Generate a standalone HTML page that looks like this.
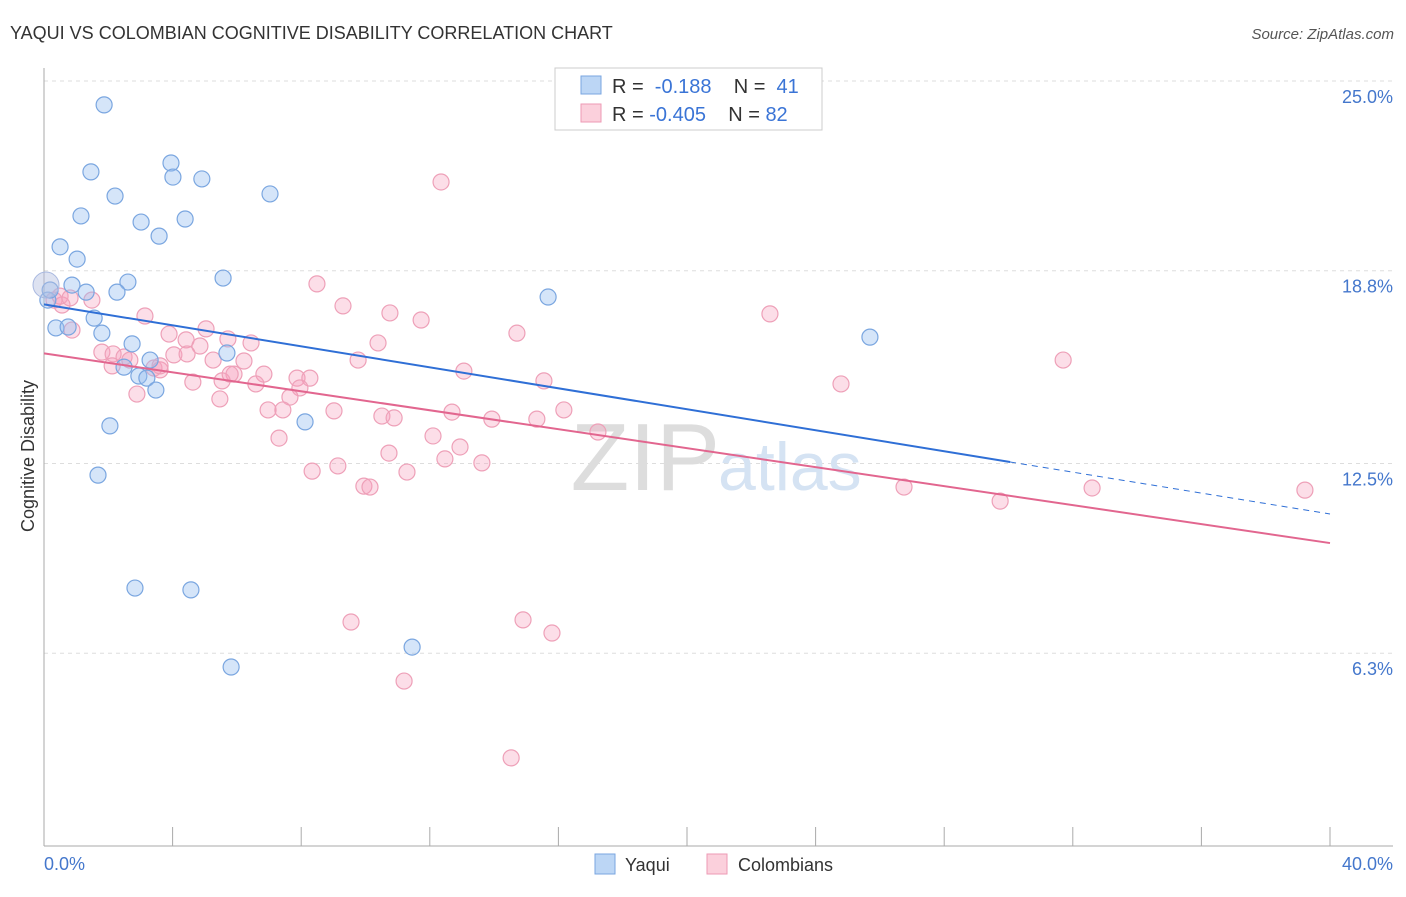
<!DOCTYPE html>
<html><head><meta charset="utf-8"><style>
body{margin:0;background:#fff;font-family:"Liberation Sans",sans-serif;}
svg text{font-family:"Liberation Sans",sans-serif;}
</style></head><body>
<svg id="c" width="1406" height="892">
<text x="10" y="39" font-size="18" fill="#333">YAQUI VS COLOMBIAN COGNITIVE DISABILITY CORRELATION CHART</text>
<text x="1394" y="39" font-size="15" fill="#555" text-anchor="end" font-style="italic">Source: ZipAtlas.com</text>
<g id="grid"></g>
<text x="720" y="490" font-size="96" fill="#ddd" text-anchor="end" font-family="Liberation Serif">ZIP</text>
<text x="718" y="490" font-size="68" fill="#d5e3f3">atlas</text>
<line x1="44" y1="68" x2="44" y2="846" stroke="#aaa"/>
<line x1="44" y1="846" x2="1393" y2="846" stroke="#aaa"/>
<g id="xt"></g>
<g id="yl"></g>
<text x="44" y="870" font-size="18" fill="#4477cc">0.0%</text>
<text x="1393" y="870" font-size="18" fill="#4477cc" text-anchor="end">40.0%</text>
<text transform="translate(34,456) rotate(-90)" font-size="18" fill="#333" text-anchor="middle">Cognitive Disability</text>
<g id="pts"></g>
<g id="lines"></g>
<g>
<rect x="555" y="68" width="267" height="62" fill="#fff" stroke="#ccc"/>
<rect x="581" y="76" width="20" height="18" fill="#bcd6f5" stroke="#7aa6e0"/>
<rect x="581" y="104" width="20" height="18" fill="#fbd0dc" stroke="#ee9ab4"/>
<text x="612" y="93" font-size="20" fill="#333" xml:space="preserve">R =  <tspan fill="#3a74d6">-0.188</tspan>    N =  <tspan fill="#3a74d6">41</tspan></text>
<text x="612" y="121" font-size="20" fill="#333" xml:space="preserve">R = <tspan fill="#3a74d6">-0.405</tspan>    N = <tspan fill="#3a74d6">82</tspan></text>
</g>
<g>
<rect x="595" y="854" width="20" height="20" fill="#bcd6f5" stroke="#7aa6e0"/>
<text x="625" y="871" font-size="18" fill="#333">Yaqui</text>
<rect x="707" y="854" width="20" height="20" fill="#fbd0dc" stroke="#ee9ab4"/>
<text x="738" y="871" font-size="18" fill="#333">Colombians</text>
</g>
</svg>
<script>
const yTicks=[25.0,18.8,12.5,6.3];
const yTickLabels=["25.0%","18.8%","12.5%","6.3%"];
const xTicks=[0,4,8,12,16,20,24,28,32,36,40];
const yaquiPx=[[104,105],[91,172],[171,163],[173,177],[202,179],[115,196],[270,194],[81,216],[141,222],[185,219],[159,236],[60,247],[77,259],[223,278],[128,282],[72,285],[117,292],[86,292],[548,297],[94,318],[56,328],[68,327],[102,333],[870,337],[132,344],[227,353],[150,360],[124,367],[139,376],[147,378],[156,390],[110,426],[305,422],[98,475],[135,588],[191,590],[412,647],[231,667],[48,300],[50,290]];
const colPx=[[54,300],[62,305],[92,300],[72,330],[145,316],[169,334],[206,329],[186,340],[200,346],[228,339],[251,343],[102,352],[113,354],[124,357],[130,360],[112,366],[154,368],[160,370],[174,355],[187,354],[213,360],[244,361],[234,374],[264,374],[222,381],[193,382],[256,384],[297,378],[310,378],[300,388],[137,394],[220,399],[290,397],[268,410],[283,410],[334,411],[382,416],[394,418],[317,284],[343,306],[390,313],[421,320],[378,343],[358,360],[464,371],[517,333],[544,381],[452,412],[492,419],[537,419],[564,410],[598,432],[279,438],[433,436],[460,447],[389,453],[445,459],[482,463],[312,471],[338,466],[407,472],[364,486],[370,487],[441,182],[770,314],[841,384],[1063,360],[904,487],[1000,501],[1092,488],[1305,490],[351,622],[523,620],[552,633],[404,681],[511,758],[60,296],[70,298],[160,366],[230,374]];
const yaquiX=yaquiPx.map(p=>+((p[0]-44)/1286*40).toFixed(2)), yaquiY=yaquiPx.map(p=>+((846-p[1])/765*25).toFixed(2));
const colX=colPx.map(p=>+((p[0]-44)/1286*40).toFixed(2)), colY=colPx.map(p=>+((846-p[1])/765*25).toFixed(2));
const yaquiTrend=[17.7,12.55,10.85];
const colTrend=[16.1,9.9];
const xs=v=>44+v/40*1286, ys=v=>846-v/25*765;
const NS="http://www.w3.org/2000/svg";
function mk(t,a,p){const e=document.createElementNS(NS,t);for(const k in a)e.setAttribute(k,a[k]);p.appendChild(e);return e;}
const g=document.getElementById('grid');
yTicks.forEach((v,i)=>{const l=mk('line',{x1:44,x2:1393,y1:ys(v),y2:ys(v),stroke:'#ddd','stroke-dasharray':'4 4'},g);


const t=mk('text',{x:1393,y:ys(v)+22,'font-size':18,fill:'#4477cc','text-anchor':'end'},document.getElementById('yl'));t.textContent=yTickLabels[i];

});
xTicks.forEach(v=>{const l=mk('line',{x1:xs(v),x2:xs(v),y1:827,y2:846,stroke:'#aaa'},document.getElementById('xt'));

});
const P=document.getElementById('pts');
colX.forEach((x,i)=>{const c=mk('circle',{cx:xs(x),cy:ys(colY[i]),r:8,fill:'rgba(245,160,190,0.35)',stroke:'#eea0b8','stroke-width':1.2},P);

});
yaquiX.forEach((x,i)=>{const c=mk('circle',{cx:xs(x),cy:ys(yaquiY[i]),r:8,fill:'rgba(150,190,240,0.4)',stroke:'#7aa6e0','stroke-width':1.2},P);

});
const big=mk('circle',{cx:46,cy:285,r:13,fill:'rgba(180,190,225,0.45)',stroke:'#a8b8e0'},P);


const L=document.getElementById('lines');
let a=mk('line',{x1:xs(0),y1:ys(yaquiTrend[0]),x2:xs(30.05),y2:ys(yaquiTrend[1]),stroke:'#2f6fd6','stroke-width':2},L);


a=mk('line',{x1:xs(30.05),y1:ys(yaquiTrend[1]),x2:xs(40),y2:ys(yaquiTrend[2]),stroke:'#2f6fd6','stroke-width':1,'stroke-dasharray':'6 5'},L);


a=mk('line',{x1:xs(0),y1:ys(colTrend[0]),x2:xs(40),y2:ys(colTrend[1]),stroke:'#e2668f','stroke-width':2},L);


</script>
</body></html>
